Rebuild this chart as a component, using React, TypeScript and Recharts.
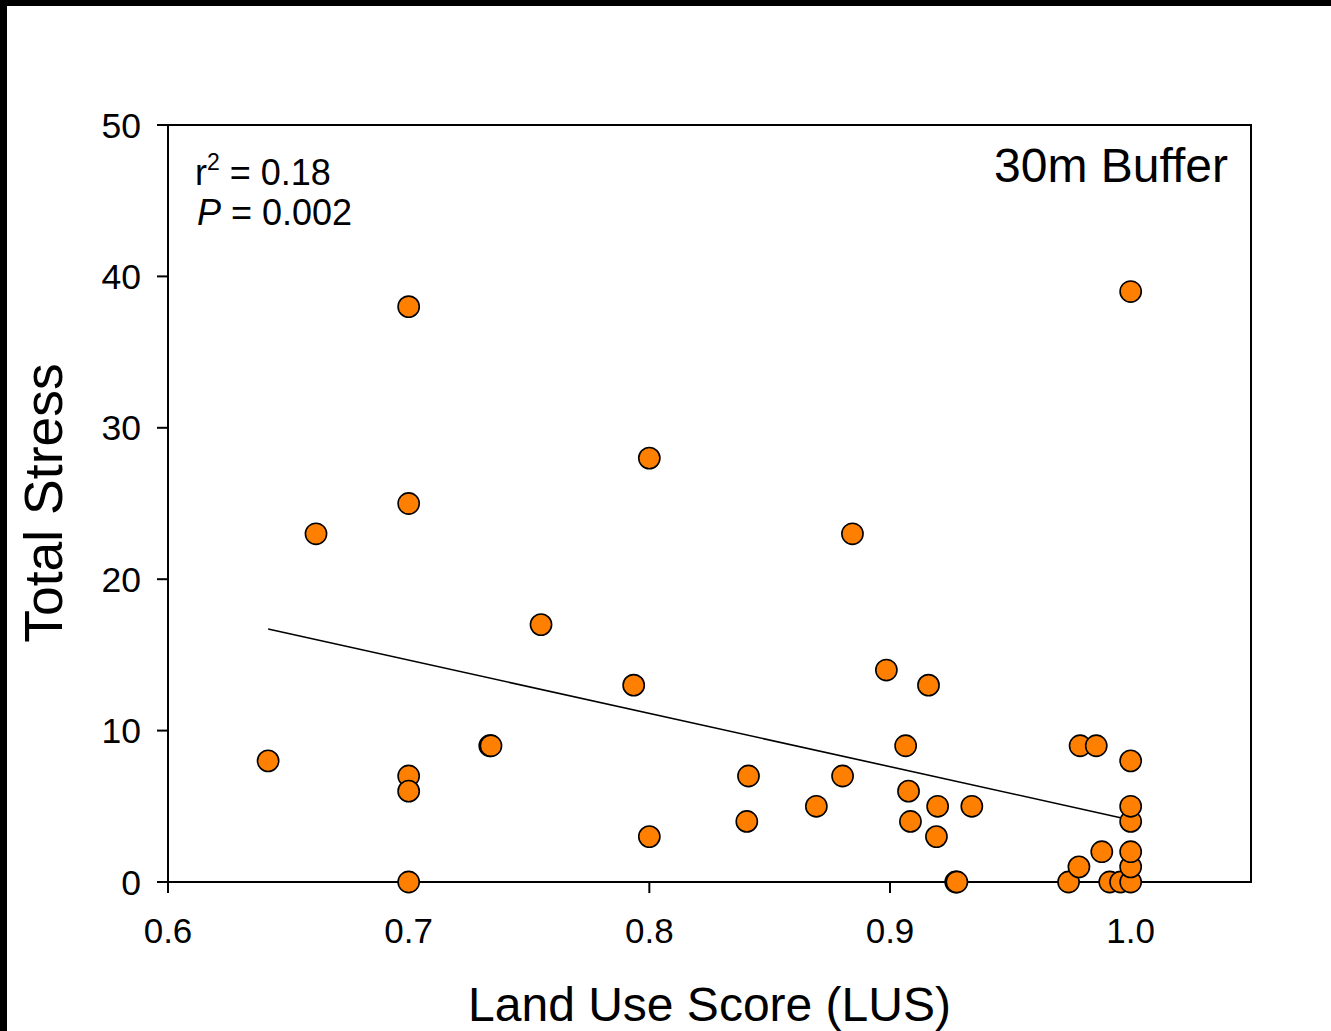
import React from 'react';
import { ScatterChart, Scatter, XAxis, YAxis, ReferenceLine, ReferenceArea, Label } from 'recharts';

const lusValues = [
  0.6416, 0.6615, 0.70, 0.70, 0.70, 0.70, 0.70, 0.7337, 0.7342, 0.755,
  0.7935, 0.80, 0.80, 0.8405, 0.8412, 0.8694, 0.8803, 0.8844, 0.8985, 0.9065,
  0.9077, 0.9085, 0.916, 0.9198, 0.9193, 0.9273, 0.9278, 0.934, 0.9742, 0.9785,
  0.979, 0.9857, 0.988, 0.9913, 0.9958, 1.0, 1.0, 1.0, 1.0, 1.0,
  1.0, 1.0,
];
const stressValues = [
  8, 23, 38, 25, 7, 6, 0, 9, 9, 17,
  13, 28, 3, 4, 7, 5, 7, 23, 14, 9,
  6, 4, 13, 5, 3, 0, 0, 5, 0, 1,
  9, 9, 2, 0, 0, 0, 1, 2, 4, 5,
  8, 39,
];
const xTicks = [0.6, 0.7, 0.8, 0.9, 1.0];
const yTicks = [0, 10, 20, 30, 40, 50];
const fitLine = [
  { x: 0.6416, y: 16.71 },
  { x: 1.0, y: 4.1 },
];

const points = lusValues.map((x, i) => ({ x, y: stressValues[i] }));

const FONT = '"Liberation Sans", Arial, sans-serif';

const Dot = (props: any) => {
  const { cx, cy } = props;
  if (cx == null || cy == null) return null;
  return <circle cx={cx} cy={cy} r={10.6} fill="#FF8000" stroke="#000" strokeWidth={1.6} />;
};

export default function App() {
  return (
    <div
      style={{
        position: 'absolute',
        left: 0,
        top: 0,
        width: 1331,
        height: 1031,
        background: '#fff',
        borderTop: '6px solid #000',
        borderLeft: '7px solid #000',
        boxSizing: 'border-box',
      }}
    >
      <ScatterChart
        width={1324}
        height={1025}
        margin={{ top: 119, right: 80, bottom: 0, left: 0 }}
        style={{ fontFamily: FONT }}
      >
        <XAxis
          type="number"
          dataKey="x"
          domain={[0.6, 1.05]}
          ticks={xTicks}
          tickFormatter={(v: number) => v.toFixed(1)}
          height={149}
          tickSize={11}
          tickMargin={25}
          stroke="#000"
          strokeWidth={2}
          tick={{ fill: '#000', fontSize: 35, fontFamily: FONT }}
        >
          <Label
            value="Land Use Score (LUS)"
            position="insideBottom"
            offset={10}
            style={{ fontSize: 48, fill: '#000', fontFamily: FONT }}
          />
        </XAxis>
        <YAxis
          type="number"
          dataKey="y"
          domain={[0, 50]}
          ticks={yTicks}
          width={161}
          tickSize={11}
          tickMargin={16}
          stroke="#000"
          strokeWidth={2}
          tick={{ fill: '#000', fontSize: 35.5, fontFamily: FONT }}
        >
          <Label
            content={() => (
              <text
                x={55}
                y={497}
                transform="rotate(-90, 55, 497)"
                textAnchor="middle"
                fontSize={53.5}
                fill="#000"
                fontFamily={FONT}
              >
                Total Stress
              </text>
            )}
          />
        </YAxis>
        <ReferenceArea
          x1={0.6}
          x2={1.05}
          y1={0}
          y2={50}
          fill="none"
          fillOpacity={0}
          stroke="#000"
          strokeWidth={2}
          strokeOpacity={1}
          ifOverflow="visible"
          label={(() => (
            <g>
              <text x={188} y={179} fontSize={36} fill="#000" fontFamily={FONT}>
                r
                <tspan fontSize={23} dy={-15}>2</tspan>
                <tspan dy={15}> = 0.18</tspan>
              </text>
              <text x={190} y={219} fontSize={36} fill="#000" fontFamily={FONT}>
                <tspan fontStyle="italic">P</tspan> = 0.002
              </text>
              <text x={1221} y={176} fontSize={48} fill="#000" fontFamily={FONT} textAnchor="end">
                30m Buffer
              </text>
            </g>
          )) as any}
        />
        <ReferenceLine segment={fitLine} stroke="#000" strokeWidth={1.6} ifOverflow="visible" />
        <Scatter data={points} shape={Dot} isAnimationActive={false} />
      </ScatterChart>
    </div>
  );
}
